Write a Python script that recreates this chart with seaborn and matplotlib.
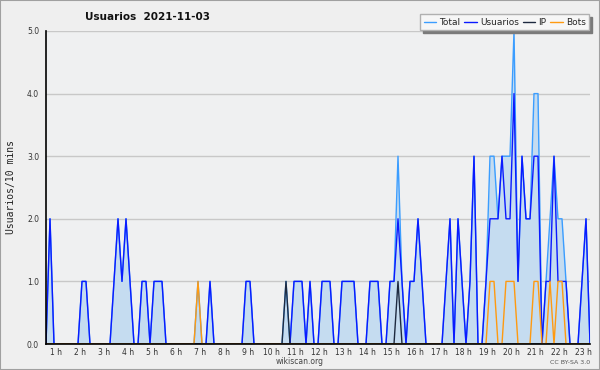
import numpy as np
import matplotlib
matplotlib.use("Agg")
import matplotlib.pyplot as plt
from matplotlib.ticker import FixedLocator, MultipleLocator
import seaborn as sns

# ---- data (10-minute slots) ----
START_H = 0.6  # hour value of first slot on the axis
usuarios = [0,2,0,0,0,0,0,0,0,1,
            1,0,0,0,0,0,0,1,2,1,
            2,1,0,0,1,1,0,1,1,1,
            0,0,0,0,0,0,0,0,0,0,
            0,1,0,0,0,0,0,0,0,0,
            1,1,0,0,0,0,0,0,0,0,
            0,0,1,1,1,0,1,0,0,1,
            1,1,0,0,1,1,1,1,0,0,
            0,1,1,1,0,0,1,1,2,1,
            0,1,1,2,1,0,0,0,0,0,
            1,2,0,2,1,0,1,3,0,0,
            1,2,2,2,3,2,2,4,1,3,
            2,2,3,3,0,1,1,3,1,1,
            1,0,0,0,1,2,0]
ip = [0]*60 + [1] + [0]*27 + [1] + [0]*48
bots = [0,0,0,0,0,0,0,0,0,0,
        0,0,0,0,0,0,0,0,0,0,
        0,0,0,0,0,0,0,0,0,0,
        0,0,0,0,0,0,0,0,1,0,
        0,0,0,0,0,0,0,0,0,0,
        0,0,0,0,0,0,0,0,0,0,
        0,0,0,0,0,0,0,0,0,0,
        0,0,0,0,0,0,0,0,0,0,
        0,0,0,0,0,0,0,0,0,0,
        0,0,0,0,0,0,0,0,0,0,
        0,0,0,0,0,0,0,0,0,0,
        0,1,1,0,0,1,1,1,0,0,
        0,0,1,1,0,0,1,0,1,1,
        0,0,0,0,0,0,0]
total = [0,2,0,0,0,0,0,0,0,1,
         1,0,0,0,0,0,0,1,2,1,
         2,1,0,0,1,1,0,1,1,1,
         0,0,0,0,0,0,0,0,1,0,
         0,1,0,0,0,0,0,0,0,0,
         1,1,0,0,0,0,0,0,0,0,
         1,0,1,1,1,0,1,0,0,1,
         1,1,0,0,1,1,1,1,0,0,
         0,1,1,1,0,0,1,1,3,1,
         0,1,1,2,1,0,0,0,0,0,
         1,2,0,2,1,0,1,3,0,0,
         1,3,3,2,3,3,3,5,1,3,
         2,2,4,4,0,1,2,3,2,2,
         1,0,0,0,1,2,0]
hour_ticks = list(range(1, 24))
hour_labels = [f"{h} h" for h in hour_ticks]
ytick_vals = [0, 1, 2, 3, 4, 5]
ytick_labels = ["0.0", "1.0", "2.0", "3.0", "4.0", "5.0"]

hours = START_H + np.arange(len(total)) / 6.0

sns.set_style("white")
plt.rcParams['font.family'] = ['DejaVu Sans']

BG = "#efefef"
fig = plt.figure(figsize=(6, 3.7), dpi=100, facecolor=BG)
fig.patches.append(plt.Rectangle((0, 0), 1, 1, transform=fig.transFigure,
                                 fill=False, edgecolor="#a0a0a0", lw=1.5))
ax = fig.add_axes([46/600, 26/370, 544/600, 313/370])
ax.set_facecolor("#eff0f1")

ax.fill_between(hours, total, 0, color="#c5dcf0", lw=0, zorder=1)
sns.lineplot(x=hours, y=total, color="#3b9dff", lw=1.0, ax=ax, label="Total", zorder=2)
sns.lineplot(x=hours, y=usuarios, color="#0a1aff", lw=1.0, ax=ax, label="Usuarios", zorder=3)
sns.lineplot(x=hours, y=ip, color="#1e2a40", lw=1.0, ax=ax, label="IP", zorder=4)
sns.lineplot(x=hours, y=bots, color="#ff9a10", lw=1.0, ax=ax, label="Bots", zorder=5)

ax.set_xlim(hours[0], hours[-1])
ax.set_ylim(0, 5)
ax.set_yticks(ytick_vals)
ax.set_yticklabels(ytick_labels)
ax.yaxis.set_minor_locator(MultipleLocator(0.25))
ax.set_xticks(hour_ticks)
ax.set_xticklabels(hour_labels)
ax.xaxis.set_minor_locator(FixedLocator(hours))
for y in ytick_vals[1:]:
    ax.axhline(y, color="#c8c8c8", lw=1, zorder=0.5)
ax.tick_params(axis="y", which="both", direction="out", length=4, width=1,
               color="black", labelsize=5.5, labelcolor="#333333", pad=1)
ax.tick_params(axis="x", which="both", direction="out", length=3, width=1,
               color="black", labelsize=5.5, labelcolor="#333333", pad=0)
for s in ["top", "right"]:
    ax.spines[s].set_visible(False)
for s in ["left", "bottom"]:
    ax.spines[s].set_color("black")
    ax.spines[s].set_linewidth(1.2)
    ax.spines[s].set_zorder(10)
ax.set_xlabel("")
ax.set_ylabel("Usuarios/10 mins", family="DejaVu Sans Mono", fontsize=7,
              color="#222222", labelpad=8)

leg = ax.legend(loc="upper right", bbox_to_anchor=(0.982, 0.962),
                bbox_transform=fig.transFigure, ncol=4, fontsize=6.5,
                frameon=True, fancybox=False, framealpha=1,
                facecolor="#f6f6f6", edgecolor="#b0b0b0",
                shadow={"color": "#7a7a7a", "alpha": 1},
                handlelength=1.4, handletextpad=0.35, columnspacing=0.4,
                borderpad=0.4, borderaxespad=0)
for line in leg.get_lines():
    line.set_linewidth(1.0)

fig.text(85/600, 1 - 17/370, "Usuarios  2021-11-03", fontsize=7.5, fontweight="bold",
         color="#111111", va="center", ha="left")
fig.text(0.5, 1 - 362/370, "wikiscan.org", fontsize=5.5, color="#444444",
         ha="center", va="center")
fig.text(590/600, 1 - 362/370, "CC BY-SA 3.0", fontsize=4.5, color="#555555",
         ha="right", va="center")

fig.savefig("out.png", dpi=100, facecolor=BG)
